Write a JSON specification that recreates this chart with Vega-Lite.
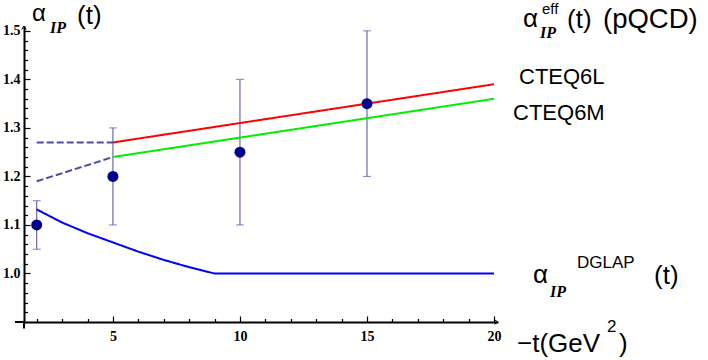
{
  "$schema": "https://vega.github.io/schema/vega-lite/v6.json",
  "width": 474,
  "height": 296,
  "autosize": "none",
  "padding": {"left": 24, "top": 26, "right": 210, "bottom": 38},
  "background": "white",
  "config": {"view": {"stroke": null}},
  "resolve": {"axis": {"x": "independent", "y": "independent"}},
  "datasets": {
    "curves": [
      {"series": "CTEQ6L", "x": 5, "y": 1.27},
      {"series": "CTEQ6L", "x": 20, "y": 1.39},
      {"series": "CTEQ6M", "x": 5, "y": 1.24},
      {"series": "CTEQ6M", "x": 20, "y": 1.36},
      {"series": "CTEQ6L low", "x": 2, "y": 1.27},
      {"series": "CTEQ6L low", "x": 5, "y": 1.27},
      {"series": "CTEQ6M low", "x": 2, "y": 1.19},
      {"series": "CTEQ6M low", "x": 5, "y": 1.24},
      {"series": "DGLAP", "x": 2, "y": 1.132},
      {"series": "DGLAP", "x": 3, "y": 1.105},
      {"series": "DGLAP", "x": 4, "y": 1.083},
      {"series": "DGLAP", "x": 5, "y": 1.064},
      {"series": "DGLAP", "x": 6, "y": 1.045},
      {"series": "DGLAP", "x": 7, "y": 1.028},
      {"series": "DGLAP", "x": 8, "y": 1.013},
      {"series": "DGLAP", "x": 9, "y": 1.0},
      {"series": "DGLAP", "x": 20, "y": 1.0}
    ],
    "points": [
      {"x": 2, "y": 1.10, "lo": 1.05, "hi": 1.15},
      {"x": 5, "y": 1.20, "lo": 1.10, "hi": 1.30},
      {"x": 10, "y": 1.25, "lo": 1.10, "hi": 1.40},
      {"x": 15, "y": 1.35, "lo": 1.20, "hi": 1.50}
    ]
  },
  "layer": [
    {
      "data": {"name": "points"},
      "mark": {"type": "rule", "color": "#5c5cb0", "strokeWidth": 1.1},
      "encoding": {
        "x": {
          "field": "x", "type": "quantitative",
          "scale": {"domain": [1.5, 20.157], "nice": false, "zero": false},
          "axis": {
            "orient": "bottom",
            "values": [5, 10, 15, 20],
            "title": null, "grid": false, "ticks": false,
            "domainColor": "black", "domainWidth": 2,
            "labelFont": "Liberation Serif", "labelFontWeight": "bold", "labelFontSize": 14,
            "labelColor": "black", "labelPadding": 7, "labelOverlap": false, "labelFlush": false, "labelBound": false
          }
        },
        "y": {
          "field": "lo", "type": "quantitative",
          "scale": {"domain": [0.9, 1.51], "nice": false, "zero": false},
          "axis": {
            "orient": "left",
            "values": [1.0, 1.1, 1.2, 1.3, 1.4, 1.5],
            "format": ".1f",
            "title": null, "grid": false, "ticks": false,
            "domainColor": "black", "domainWidth": 2,
            "labelFont": "Liberation Serif", "labelFontWeight": "bold", "labelFontSize": 14,
            "labelColor": "black", "labelPadding": 4, "labelOverlap": false, "labelFlush": false, "labelBound": false
          }
        },
        "y2": {"field": "hi"}
      }
    },
    {
      "data": {"name": "points"},
      "mark": {"type": "tick", "orient": "horizontal", "color": "#5c5cb0", "size": 8, "thickness": 1.1},
      "encoding": {
        "x": {"field": "x", "type": "quantitative",
          "axis": {"orient": "top", "offset": -296, "values": [5, 10, 15, 20], "title": null, "grid": false,
                   "domain": false, "labels": false, "ticks": true, "tickSize": 6, "tickWidth": 1.2, "tickColor": "black"}},
        "y": {"field": "lo", "type": "quantitative",
          "axis": {"orient": "right", "offset": -474, "values": [1.0, 1.1, 1.2, 1.3, 1.4, 1.5], "title": null, "grid": false,
                   "domain": false, "labels": false, "ticks": true, "tickSize": 6, "tickWidth": 1.2, "tickColor": "black"}}
      }
    },
    {
      "data": {"name": "points"},
      "mark": {"type": "tick", "orient": "horizontal", "color": "#5c5cb0", "size": 8, "thickness": 1.1},
      "encoding": {
        "x": {"field": "x", "type": "quantitative",
          "axis": {"orient": "top", "offset": -296, "values": [2,3,4,6,7,8,9,11,12,13,14,16,17,18,19], "title": null, "grid": false,
                   "domain": false, "labels": false, "ticks": true, "tickSize": 3.5, "tickWidth": 1.2, "tickColor": "black"}},
        "y": {"field": "hi", "type": "quantitative",
          "axis": {"orient": "right", "offset": -474, "values": [0.92,0.94,0.96,0.98,1.02,1.04,1.06,1.08,1.12,1.14,1.16,1.18,1.22,1.24,1.26,1.28,1.32,1.34,1.36,1.38,1.42,1.44,1.46,1.48], "title": null, "grid": false,
                   "domain": false, "labels": false, "ticks": true, "tickSize": 3.5, "tickWidth": 1.2, "tickColor": "black"}}
      }
    },
    {
      "data": {"values": [{"x": 1.146, "x2": 1.5, "y": 0.9}]},
      "mark": {"type": "rule", "color": "black", "strokeWidth": 2},
      "encoding": {
        "x": {"field": "x", "type": "quantitative", "axis": null},
        "x2": {"field": "x2"},
        "y": {"field": "y", "type": "quantitative", "axis": null}
      }
    },
    {
      "data": {"values": [{"x": 1.5, "y": 0.8866, "y2": 0.9}]},
      "mark": {"type": "rule", "color": "black", "strokeWidth": 2},
      "encoding": {
        "x": {"field": "x", "type": "quantitative", "axis": null},
        "y": {"field": "y", "type": "quantitative", "axis": null},
        "y2": {"field": "y2"}
      }
    },
    {
      "data": {"name": "curves"},
      "mark": {"type": "line", "strokeWidth": 2},
      "encoding": {
        "x": {"field": "x", "type": "quantitative", "axis": null},
        "y": {"field": "y", "type": "quantitative", "axis": null},
        "detail": {"field": "series"},
        "color": {
          "field": "series", "type": "nominal", "legend": null,
          "scale": {"domain": ["CTEQ6L", "CTEQ6M", "CTEQ6L low", "CTEQ6M low", "DGLAP"],
                    "range": ["#ff0000", "#00ee00", "#4c4ca6", "#4c4ca6", "#0000ff"]}
        },
        "strokeDash": {
          "field": "series", "type": "nominal", "legend": null,
          "scale": {"domain": ["CTEQ6L", "CTEQ6M", "CTEQ6L low", "CTEQ6M low", "DGLAP"],
                    "range": [[1, 0], [1, 0], [7, 3], [7, 3], [1, 0]]}
        }
      }
    },
    {
      "data": {"name": "points"},
      "mark": {"type": "point", "filled": true, "color": "#00008b", "size": 121, "opacity": 1},
      "encoding": {
        "x": {"field": "x", "type": "quantitative", "axis": null},
        "y": {"field": "y", "type": "quantitative", "axis": null}
      }
    },
    {
      "data": {"values": [{"x": 1.5, "y": 1.51}]},
      "mark": {"type": "point", "shape": "M-1,1.6L0,0L1,1.6", "filled": false, "stroke": "black", "strokeWidth": 1, "size": 20, "opacity": 1},
      "encoding": {
        "x": {"field": "x", "type": "quantitative", "axis": null},
        "y": {"field": "y", "type": "quantitative", "axis": null}
      }
    },
    {
      "data": {"values": [{"x": 20.157, "y": 0.9}]},
      "mark": {"type": "point", "shape": "M-1.6,-1L0,0L-1.6,1", "filled": false, "stroke": "black", "strokeWidth": 1, "size": 20, "opacity": 1},
      "encoding": {
        "x": {"field": "x", "type": "quantitative", "axis": null},
        "y": {"field": "y", "type": "quantitative", "axis": null}
      }
    },
    {
      "data": {"values": [
        {"x": 1.815, "y": 1.5203, "text": "α"}
      ]},
      "mark": {"type": "text", "align": "left", "baseline": "alphabetic", "font": "Liberation Sans", "fontSize": 24, "color": "black"},
      "encoding": {
        "x": {"field": "x", "type": "quantitative", "axis": null},
        "y": {"field": "y", "type": "quantitative", "axis": null},
        "text": {"field": "text"}
      }
    },
    {
      "data": {"values": [
        {"x": 21.142, "y": 1.5079, "text": "α"},
        {"x": 21.535, "y": 0.9803, "text": "α"}
      ]},
      "mark": {"type": "text", "align": "left", "baseline": "alphabetic", "font": "Liberation Sans", "fontSize": 26, "color": "black"},
      "encoding": {
        "x": {"field": "x", "type": "quantitative", "axis": null},
        "y": {"field": "y", "type": "quantitative", "axis": null},
        "text": {"field": "text"}
      }
    },
    {
      "data": {"values": [
        {"x": 2.523, "y": 1.4956, "text": "IP"},
        {"x": 21.81, "y": 1.4853, "text": "IP"},
        {"x": 22.205, "y": 0.9515, "text": "IP"}
      ]},
      "mark": {"type": "text", "align": "left", "baseline": "alphabetic", "font": "Liberation Serif", "fontStyle": "italic", "fontWeight": "bold", "fontSize": 16, "color": "black"},
      "encoding": {
        "x": {"field": "x", "type": "quantitative", "axis": null},
        "y": {"field": "y", "type": "quantitative", "axis": null},
        "text": {"field": "text"}
      }
    },
    {
      "data": {"values": [
        {"x": 21.89, "y": 1.5347, "text": "eff"}
      ]},
      "mark": {"type": "text", "align": "left", "baseline": "alphabetic", "font": "Liberation Sans", "fontSize": 15, "color": "black"},
      "encoding": {
        "x": {"field": "x", "type": "quantitative", "axis": null},
        "y": {"field": "y", "type": "quantitative", "axis": null},
        "text": {"field": "text"}
      }
    },
    {
      "data": {"values": [
        {"x": 23.267, "y": 1.0112, "text": "DGLAP"},
        {"x": 24.448, "y": 0.8793, "text": "2"}
      ]},
      "mark": {"type": "text", "align": "left", "baseline": "alphabetic", "font": "Liberation Sans", "fontSize": 17, "color": "black"},
      "encoding": {
        "x": {"field": "x", "type": "quantitative", "axis": null},
        "y": {"field": "y", "type": "quantitative", "axis": null},
        "text": {"field": "text"}
      }
    },
    {
      "data": {"values": [
        {"x": 3.586, "y": 1.5141, "text": "(t)"},
        {"x": 22.874, "y": 1.5059, "text": "(t)"},
        {"x": 26.298, "y": 0.9783, "text": "(t)"},
        {"x": 20.906, "y": 0.8381, "text": "−t(GeV"},
        {"x": 24.92, "y": 0.8381, "text": ")"}
      ]},
      "mark": {"type": "text", "align": "left", "baseline": "alphabetic", "font": "Liberation Sans", "fontSize": 26, "color": "black"},
      "encoding": {
        "x": {"field": "x", "type": "quantitative", "axis": null},
        "y": {"field": "y", "type": "quantitative", "axis": null},
        "text": {"field": "text"}
      }
    },
    {
      "data": {"values": [
        {"x": 24.29, "y": 1.5059, "text": "(pQCD)"}
      ]},
      "mark": {"type": "text", "align": "left", "baseline": "alphabetic", "font": "Liberation Sans", "fontSize": 27.5, "color": "black"},
      "encoding": {
        "x": {"field": "x", "type": "quantitative", "axis": null},
        "y": {"field": "y", "type": "quantitative", "axis": null},
        "text": {"field": "text"}
      }
    },
    {
      "data": {"values": [
        {"x": 20.984, "y": 1.3905, "text": "CTEQ6L"},
        {"x": 20.748, "y": 1.3163, "text": "CTEQ6M"}
      ]},
      "mark": {"type": "text", "align": "left", "baseline": "alphabetic", "font": "Liberation Sans", "fontSize": 22, "color": "black"},
      "encoding": {
        "x": {"field": "x", "type": "quantitative", "axis": null},
        "y": {"field": "y", "type": "quantitative", "axis": null},
        "text": {"field": "text"}
      }
    }
  ]
}
